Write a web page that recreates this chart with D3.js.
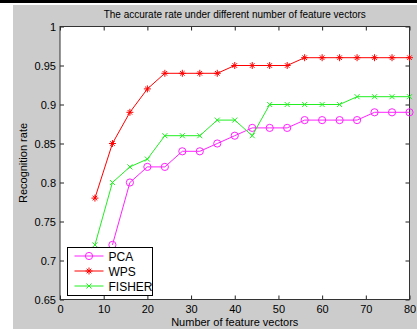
<!DOCTYPE html>
<html>
<head>
<meta charset="utf-8">
<script src="https://cdn.jsdelivr.net/npm/d3@7"></script>
<style>
  body { margin: 0; background: #fff; }
  text { font-family: "Liberation Sans", Arial, sans-serif; fill: #000; }
</style>
</head>
<body>
<div id="chart"></div>
<script>
"use strict";

// feature vector counts (x) for each series
const pcaX = [12, 16, 20, 24, 28, 32, 36, 40, 44, 48, 52, 56, 60, 64, 68, 72, 76, 80];
const pcaY = [0.72, 0.80, 0.82, 0.82, 0.84, 0.84, 0.85, 0.86, 0.87, 0.87, 0.87, 0.88, 0.88, 0.88, 0.88, 0.89, 0.89, 0.89];

const wpsX = [8, 12, 16, 20, 24, 28, 32, 36, 40, 44, 48, 52, 56, 60, 64, 68, 72, 76, 80];
const wpsY = [0.78, 0.85, 0.89, 0.92, 0.94, 0.94, 0.94, 0.94, 0.95, 0.95, 0.95, 0.95, 0.96, 0.96, 0.96, 0.96, 0.96, 0.96, 0.96];

const fisherX = [8, 12, 16, 20, 24, 28, 32, 36, 40, 44, 48, 52, 56, 60, 64, 68, 72, 76, 80];
const fisherY = [0.72, 0.80, 0.82, 0.83, 0.86, 0.86, 0.86, 0.88, 0.88, 0.86, 0.90, 0.90, 0.90, 0.90, 0.90, 0.91, 0.91, 0.91, 0.91];

const xTicks = [0, 10, 20, 30, 40, 50, 60, 70, 80];
const yTicks = [0.65, 0.7, 0.75, 0.8, 0.85, 0.9, 0.95, 1];

const seriesNames = ["PCA", "WPS", "FISHER"];

const svgWidth = 417;
const svgHeight = 329;
const plot = { left: 60, right: 409.5, top: 26.5, bottom: 299.5 };

const svg = d3.select("#chart")
  .append("svg")
  .attr("width", svgWidth)
  .attr("height", svgHeight)
;

// figure background (matlab style grey)
svg.append("rect").attr("x", 0).attr("y", 0).attr("width", svgWidth).attr("height", svgHeight).attr("fill", "#fff");
svg.append("rect").attr("x", 0).attr("y", 0).attr("width", svgWidth).attr("height", 3).attr("fill", "#000");
svg.append("rect").attr("x", 13).attr("y", 5).attr("width", svgWidth - 13).attr("height", svgHeight - 5).attr("fill", "#cccccc");

const xScale = d3.scaleLinear().domain([0, 80]).range([plot.left, plot.right]);
const yScale = d3.scaleLinear().domain([0.65, 1]).range([plot.bottom, plot.top]);

svg.append("rect")
  .attr("x", plot.left)
  .attr("y", plot.top)
  .attr("width", plot.right - plot.left)
  .attr("height", plot.bottom - plot.top)
  .attr("fill", "#fff")
;

const tickLen = 4;
const fmt = d => (d === 1 ? "1" : d3.format("")(+d.toFixed(2)));

const xAxis = d3.axisBottom(xScale).tickValues(xTicks).tickSize(-tickLen).tickPadding(6).tickFormat(d3.format("d"));
const yAxis = d3.axisLeft(yScale).tickValues(yTicks).tickSize(-tickLen).tickPadding(4).tickFormat(fmt);
const xAxisTop = d3.axisTop(xScale).tickValues(xTicks).tickSize(-tickLen).tickFormat("");
const yAxisRight = d3.axisRight(yScale).tickValues(yTicks).tickSize(-tickLen).tickFormat("");

function styleAxis(g) {
  g.select(".domain").remove();
  g.selectAll(".tick line").attr("stroke", "#222");
  g.selectAll(".tick text").attr("font-size", 11).attr("fill", "#000")
    .attr("font-family", "'Liberation Sans', Arial, sans-serif");
}

svg.append("g").attr("transform", `translate(0, ${plot.bottom})`).call(xAxis).call(styleAxis);
svg.append("g").attr("transform", `translate(${plot.left}, 0)`).call(yAxis).call(styleAxis);
svg.append("g").attr("transform", `translate(0, ${plot.top})`).call(xAxisTop).call(styleAxis);
svg.append("g").attr("transform", `translate(${plot.right}, 0)`).call(yAxisRight).call(styleAxis);

// axes box
svg.append("rect")
  .attr("x", plot.left)
  .attr("y", plot.top)
  .attr("width", plot.right - plot.left)
  .attr("height", plot.bottom - plot.top)
  .attr("fill", "none")
  .attr("stroke", "#333")
  .attr("stroke-width", 1)
;

const series = [
  { name: seriesNames[0], xs: pcaX, ys: pcaY, color: "#ff22ff", marker: "circle" },
  { name: seriesNames[1], xs: wpsX, ys: wpsY, color: "#ff0000", marker: "star" },
  { name: seriesNames[2], xs: fisherX, ys: fisherY, color: "#22ee22", marker: "cross" }
];

const line = d3.line().x(d => xScale(d[0])).y(d => yScale(d[1]));

function drawMarker(g, type, color) {
  if (type === "circle") {
    g.append("circle").attr("r", 3.6).attr("fill", "none").attr("stroke", color).attr("stroke-width", 1);
  } else if (type === "star") {
    g.append("path").attr("d", "M-3.5,0H3.5M0,-3.5V3.5M-2.3,-2.3L2.3,2.3M-2.3,2.3L2.3,-2.3")
      .attr("stroke", color).attr("stroke-width", 1);
  } else {
    g.append("path").attr("d", "M-2.5,-2.5L2.5,2.5M-2.5,2.5L2.5,-2.5")
      .attr("stroke", color).attr("stroke-width", 1);
  }
}

series.forEach(s => {
  const pts = s.xs.map((x, i) => [x, s.ys[i]]);
  svg.append("path")
    .datum(pts)
    .attr("d", line)
    .attr("fill", "none")
    .attr("stroke", s.color)
    .attr("stroke-width", 1)
  ;
  svg.selectAll(null)
    .data(pts)
    .enter()
    .append("g")
    .attr("transform", d => `translate(${xScale(d[0])}, ${yScale(d[1])})`)
    .each(function () { drawMarker(d3.select(this), s.marker, s.color); })
  ;
});

// legend
const legend = svg.append("g").attr("transform", "translate(67.5, 247.5)");
legend.append("rect")
  .attr("width", 85)
  .attr("height", 48)
  .attr("fill", "#fff")
  .attr("stroke", "#000")
;
series.forEach((s, i) => {
  const row = legend.append("g").attr("transform", `translate(0, ${8.5 + i * 15})`);
  row.append("line").attr("x1", 7).attr("x2", 36).attr("stroke", s.color);
  drawMarker(row.append("g").attr("transform", "translate(21.5, 0)"), s.marker, s.color);
  row.append("text")
    .attr("x", 41)
    .attr("y", 4.5)
    .attr("font-size", 12)
    .text(s.name)
  ;
});

// title and axis labels
svg.append("text")
  .attr("x", (plot.left + plot.right) / 2)
  .attr("y", 17.5)
  .attr("text-anchor", "middle")
  .attr("font-size", 10)
  .text("The accurate rate under different number of feature vectors")
;

svg.append("text")
  .attr("x", (plot.left + plot.right) / 2)
  .attr("y", 326)
  .attr("text-anchor", "middle")
  .attr("font-size", 11)
  .text("Number of feature vectors")
;

svg.append("text")
  .attr("transform", `translate(27, ${(plot.top + plot.bottom) / 2}) rotate(-90)`)
  .attr("text-anchor", "middle")
  .attr("font-size", 11)
  .text("Recognition rate")
;
</script>
</body>
</html>
